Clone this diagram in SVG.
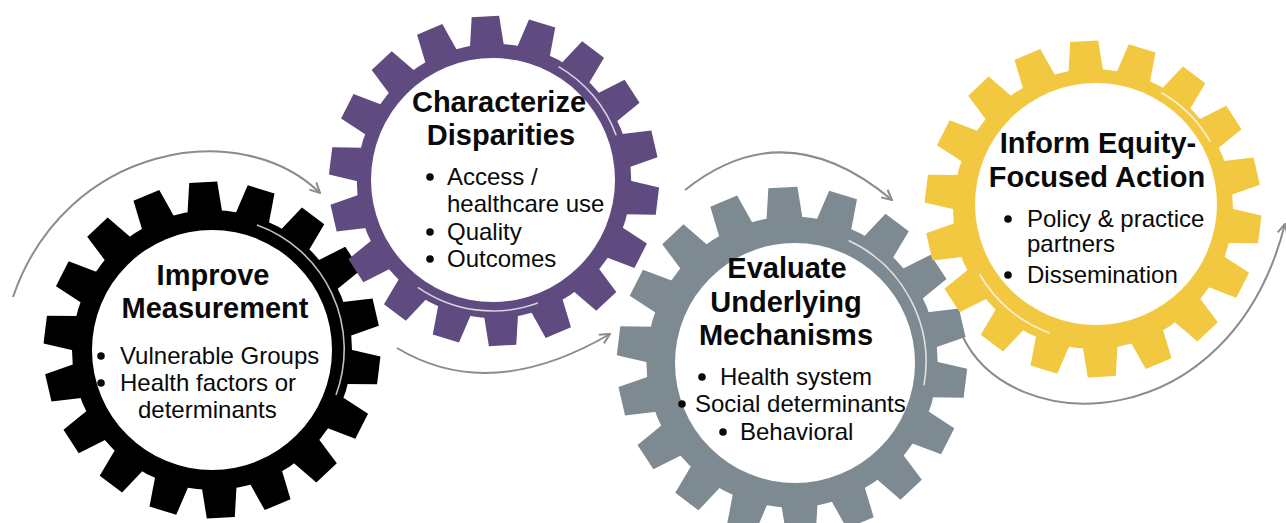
<svg xmlns="http://www.w3.org/2000/svg" xmlns:xlink="http://www.w3.org/1999/xlink" width="1286" height="523" viewBox="0 0 1286 523">
<defs>
<style>
.title{font-family:"Liberation Sans",Arial,sans-serif;font-weight:bold;font-size:29px;fill:#0a0a0a;text-anchor:middle}
.item{font-family:"Liberation Sans",Arial,sans-serif;font-size:24px;fill:#0a0a0a}
.dot{fill:#0a0a0a}
.conn{fill:none;stroke:#8c8c8c;stroke-width:2}
.shine{fill:none;stroke:#ffffff;stroke-width:1.6;opacity:0.75}
</style>
<polygon id="tooth" points="-17.5,-136 17.5,-136 14,-168 -14,-168"/>
<g id="gear">
<circle r="140"/>
<use xlink:href="#tooth" transform="rotate(-3)"/>
<use xlink:href="#tooth" transform="rotate(17)"/>
<use xlink:href="#tooth" transform="rotate(37)"/>
<use xlink:href="#tooth" transform="rotate(57)"/>
<use xlink:href="#tooth" transform="rotate(77)"/>
<use xlink:href="#tooth" transform="rotate(97)"/>
<use xlink:href="#tooth" transform="rotate(117)"/>
<use xlink:href="#tooth" transform="rotate(137)"/>
<use xlink:href="#tooth" transform="rotate(157)"/>
<use xlink:href="#tooth" transform="rotate(177)"/>
<use xlink:href="#tooth" transform="rotate(197)"/>
<use xlink:href="#tooth" transform="rotate(217)"/>
<use xlink:href="#tooth" transform="rotate(237)"/>
<use xlink:href="#tooth" transform="rotate(257)"/>
<use xlink:href="#tooth" transform="rotate(277)"/>
<use xlink:href="#tooth" transform="rotate(297)"/>
<use xlink:href="#tooth" transform="rotate(317)"/>
<use xlink:href="#tooth" transform="rotate(337)"/>
</g>
<marker id="chev" viewBox="0 0 12 12" refX="11" refY="6" markerWidth="12" markerHeight="12" markerUnits="userSpaceOnUse" orient="auto">
<path d="M1,1 L11,6 L1,11" fill="none" stroke="#8c8c8c" stroke-width="2"/>
</marker>
</defs>
<rect width="1286" height="523" fill="#ffffff"/>

<g id="connectors">
<path class="conn" d="M13,297 C65,145 240,115 320,193" marker-end="url(#chev)"/>
<path class="conn" d="M397,348 Q490,404 610,334" marker-end="url(#chev)"/>
<path class="conn" d="M685,190 Q785,110 892,200" marker-end="url(#chev)"/>
<path class="conn" d="M962,335 C1010,440 1230,440 1285,224" marker-end="url(#chev)"/>
</g>

<g id="node-improve-measurement">
<use xlink:href="#gear" transform="translate(212,350)" fill="#000000"/>
<circle cx="212" cy="350" r="120" fill="#ffffff"/>
<path class="shine" d="M257,225 A132,132 0 0 1 336,395"/>
<text class="title" x="213" y="285">Improve</text>
<text class="title" x="215" y="318">Measurement</text>
<circle class="dot" cx="101" cy="356" r="3.8"/>
<text class="item" x="120" y="364">Vulnerable Groups</text>
<circle class="dot" cx="101" cy="383" r="3.8"/>
<text class="item" x="120" y="391">Health factors or</text>
<text class="item" x="138" y="418">determinants</text>
</g>

<g id="node-characterize-disparities">
<use xlink:href="#gear" transform="translate(494,181) scale(0.98)" fill="#5f4b7f"/>
<circle cx="493" cy="180" r="122" fill="#ffffff"/>
<path class="shine" d="M558.5,66.6 A131,131 0 0 1 616.1,135.2"/>
<path class="shine" d="M537.8,303.1 A131,131 0 0 1 417.9,287.3"/>
<text class="title" x="499" y="112">Characterize</text>
<text class="title" x="501" y="145">Disparities</text>
<circle class="dot" cx="430" cy="177" r="3.8"/>
<text class="item" x="447" y="185">Access /</text>
<text class="item" x="447" y="212">healthcare use</text>
<circle class="dot" cx="430" cy="232" r="3.8"/>
<text class="item" x="447" y="240">Quality</text>
<circle class="dot" cx="430" cy="259" r="3.8"/>
<text class="item" x="447" y="267">Outcomes</text>
</g>

<g id="node-evaluate-mechanisms">
<use xlink:href="#gear" transform="translate(792,362) scale(1.04)" fill="#7e8a91"/>
<circle cx="795" cy="363" r="120" fill="#ffffff"/>
<path class="shine" d="M848.6,240.6 A134,134 0 0 1 924,385.3"/>
<text class="title" x="787" y="278">Evaluate</text>
<text class="title" x="786" y="312">Underlying</text>
<text class="title" x="786" y="345">Mechanisms</text>
<circle class="dot" cx="702" cy="377" r="3.8"/>
<text class="item" x="720" y="385">Health system</text>
<circle class="dot" cx="682" cy="404" r="3.8"/>
<text class="item" x="695" y="412" font-size="23">Social determinants</text>
<circle class="dot" cx="723" cy="432" r="3.8"/>
<text class="item" x="740" y="440">Behavioral</text>
</g>

<g id="node-inform-action">
<use xlink:href="#gear" transform="translate(1093,209)" fill="#f1c840"/>
<circle cx="1096" cy="204" r="121" fill="#ffffff"/>
<path class="shine" d="M1161.5,92.8 A133,133 0 0 1 1210.2,141.5"/>
<path class="shine" d="M1049.5,333 A133,133 0 0 1 979.8,274.5"/>
<text class="title" x="1098" y="153">Inform Equity-</text>
<text class="title" x="1097" y="187">Focused Action</text>
<circle class="dot" cx="1008" cy="219" r="3.8"/>
<text class="item" x="1027" y="227">Policy &amp; practice</text>
<text class="item" x="1027" y="252">partners</text>
<circle class="dot" cx="1008" cy="275" r="3.8"/>
<text class="item" x="1027" y="283">Dissemination</text>
</g>
</svg>
